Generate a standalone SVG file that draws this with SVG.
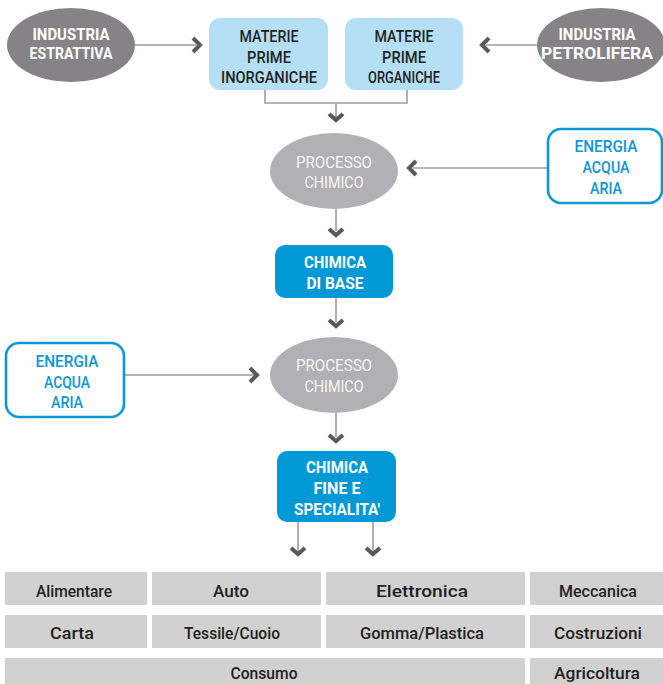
<svg xmlns="http://www.w3.org/2000/svg" width="663" height="684" viewBox="0 0 663 684">
<style>
text{font-family:Roboto,"Liberation Sans",sans-serif;text-anchor:middle;font-size:17px}
.w{fill:#fff;font-weight:700}
.d{fill:#231f20;font-weight:500}
.p{fill:#f7f7f7;font-weight:400}
.b{fill:#0a98d6;font-weight:500}
.c{fill:#fff;font-weight:700}
.t{fill:#231f20;font-size:16px;font-weight:500}
.ln{stroke:#9d9c9f;stroke-width:1.6;fill:none}
.ch{stroke:#59585b;stroke-width:4;fill:none;stroke-linejoin:miter}
.cell{fill:#d1d1d1}
</style>
<g id="connectors">
<line class="ln" x1="135" y1="45" x2="196" y2="45"/>
<polyline class="ch" points="193,38 200,45 193,52"/>
<line class="ln" x1="538" y1="45" x2="486" y2="45"/>
<polyline class="ch" points="489,38 482,45 489,52"/>
<polyline class="ln" points="265,90 265,103 407,103 407,90"/>
<line class="ln" x1="336" y1="103" x2="336" y2="117"/>
<polyline class="ch" points="329,114 336,120 343,114"/>
<line class="ln" x1="336" y1="208" x2="336" y2="231"/>
<polyline class="ch" points="329,229 336,235 343,229"/>
<line class="ln" x1="547" y1="168" x2="413" y2="168"/>
<polyline class="ch" points="416,161 409,168 416,175"/>
<line class="ln" x1="336" y1="298" x2="336" y2="322"/>
<polyline class="ch" points="329,320 336,326 343,320"/>
<line class="ln" x1="125" y1="375" x2="254" y2="375"/>
<polyline class="ch" points="250,368 257,375 250,382"/>
<line class="ln" x1="336" y1="412" x2="336" y2="437"/>
<polyline class="ch" points="329,435 336,441 343,435"/>
<line class="ln" x1="298" y1="522" x2="298" y2="551"/>
<polyline class="ch" points="291,548 298,554 305,548"/>
<line class="ln" x1="373" y1="522" x2="373" y2="551"/>
<polyline class="ch" points="366,548 373,554 380,548"/>
</g>
<g id="industria-estrattiva">
<ellipse cx="71" cy="45" rx="64" ry="37" fill="#858387"/>
<text class="w" x="71" y="40" textLength="77" lengthAdjust="spacingAndGlyphs">INDUSTRIA</text>
<text class="w" x="71" y="59" textLength="83" lengthAdjust="spacingAndGlyphs">ESTRATTIVA</text>
</g>
<g id="materie-inorganiche">
<rect x="209" y="18" width="119" height="72" rx="11" fill="#b4dff5"/>
<text class="d" x="269" y="42" textLength="59" lengthAdjust="spacingAndGlyphs">MATERIE</text>
<text class="d" x="269" y="63" textLength="44" lengthAdjust="spacingAndGlyphs">PRIME</text>
<text class="d" x="269" y="83" textLength="96" lengthAdjust="spacingAndGlyphs">INORGANICHE</text>
</g>
<g id="materie-organiche">
<rect x="345" y="18" width="118" height="72" rx="11" fill="#b4dff5"/>
<text class="d" x="404" y="42" textLength="59" lengthAdjust="spacingAndGlyphs">MATERIE</text>
<text class="d" x="404" y="63" textLength="44" lengthAdjust="spacingAndGlyphs">PRIME</text>
<text class="d" x="404" y="83" textLength="72" lengthAdjust="spacingAndGlyphs">ORGANICHE</text>
</g>
<g id="industria-petrolifera">
<ellipse cx="601" cy="45" rx="64" ry="37" fill="#858387"/>
<text class="w" x="597" y="40" textLength="77" lengthAdjust="spacingAndGlyphs">INDUSTRIA</text>
<text class="w" x="597" y="59" textLength="112" lengthAdjust="spacingAndGlyphs">PETROLIFERA</text>
</g>
<g id="processo-chimico-1">
<ellipse cx="334" cy="171" rx="64" ry="38" fill="#b1b0b4"/>
<text class="p" x="334" y="168" textLength="76" lengthAdjust="spacingAndGlyphs">PROCESSO</text>
<text class="p" x="334" y="188" textLength="59" lengthAdjust="spacingAndGlyphs">CHIMICO</text>
</g>
<g id="energia-1">
<rect x="548" y="129" width="114" height="74" rx="13" fill="#fff" stroke="#0a98d6" stroke-width="2.6"/>
<text class="b" x="606" y="152" textLength="63" lengthAdjust="spacingAndGlyphs">ENERGIA</text>
<text class="b" x="606" y="173" textLength="47" lengthAdjust="spacingAndGlyphs">ACQUA</text>
<text class="b" x="606" y="194" textLength="32" lengthAdjust="spacingAndGlyphs">ARIA</text>
</g>
<g id="chimica-di-base">
<rect x="275" y="245" width="118" height="53" rx="10" fill="#0099d6"/>
<text class="c" x="335" y="268" textLength="62" lengthAdjust="spacingAndGlyphs">CHIMICA</text>
<text class="c" x="335" y="289" textLength="57" lengthAdjust="spacingAndGlyphs">DI BASE</text>
</g>
<g id="energia-2">
<rect x="6" y="343" width="118" height="74" rx="13" fill="#fff" stroke="#0a98d6" stroke-width="2.6"/>
<text class="b" x="67" y="367" textLength="63" lengthAdjust="spacingAndGlyphs">ENERGIA</text>
<text class="b" x="67" y="388" textLength="46" lengthAdjust="spacingAndGlyphs">ACQUA</text>
<text class="b" x="67" y="408" textLength="32" lengthAdjust="spacingAndGlyphs">ARIA</text>
</g>
<g id="processo-chimico-2">
<ellipse cx="334" cy="375" rx="64" ry="38" fill="#b1b0b4"/>
<text class="p" x="334" y="371" textLength="76" lengthAdjust="spacingAndGlyphs">PROCESSO</text>
<text class="p" x="334" y="392" textLength="59" lengthAdjust="spacingAndGlyphs">CHIMICO</text>
</g>
<g id="chimica-fine">
<rect x="277" y="451" width="119" height="71" rx="10" fill="#0099d6"/>
<text class="c" x="337" y="473" textLength="62" lengthAdjust="spacingAndGlyphs">CHIMICA</text>
<text class="c" x="337" y="494" textLength="47" lengthAdjust="spacingAndGlyphs">FINE E</text>
<text class="c" x="337" y="515" textLength="86" lengthAdjust="spacingAndGlyphs">SPECIALITA'</text>
</g>
<g id="settori">
<rect class="cell" x="5" y="572" width="142" height="33"/>
<rect class="cell" x="152" y="572" width="169" height="33"/>
<rect class="cell" x="326" y="572" width="199" height="33"/>
<rect class="cell" x="530" y="572" width="133" height="33"/>
<rect class="cell" x="5" y="615" width="142" height="33"/>
<rect class="cell" x="152" y="615" width="169" height="33"/>
<rect class="cell" x="326" y="615" width="199" height="33"/>
<rect class="cell" x="530" y="615" width="133" height="33"/>
<rect class="cell" x="5" y="658" width="520" height="33"/>
<rect class="cell" x="530" y="658" width="133" height="33"/>
<text class="t" x="74" y="597" textLength="76" lengthAdjust="spacingAndGlyphs">Alimentare</text>
<text class="t" x="231" y="597" textLength="36" lengthAdjust="spacingAndGlyphs">Auto</text>
<text class="t" x="422" y="597" textLength="92" lengthAdjust="spacingAndGlyphs">Elettronica</text>
<text class="t" x="598" y="597" textLength="78" lengthAdjust="spacingAndGlyphs">Meccanica</text>
<text class="t" x="72" y="639" textLength="44" lengthAdjust="spacingAndGlyphs">Carta</text>
<text class="t" x="232" y="639" textLength="96" lengthAdjust="spacingAndGlyphs">Tessile/Cuoio</text>
<text class="t" x="422" y="639" textLength="124" lengthAdjust="spacingAndGlyphs">Gomma/Plastica</text>
<text class="t" x="598" y="639" textLength="88" lengthAdjust="spacingAndGlyphs">Costruzioni</text>
<text class="t" x="264" y="679" textLength="67" lengthAdjust="spacingAndGlyphs">Consumo</text>
<text class="t" x="597" y="679" textLength="86" lengthAdjust="spacingAndGlyphs">Agricoltura</text>
</g>
</svg>
